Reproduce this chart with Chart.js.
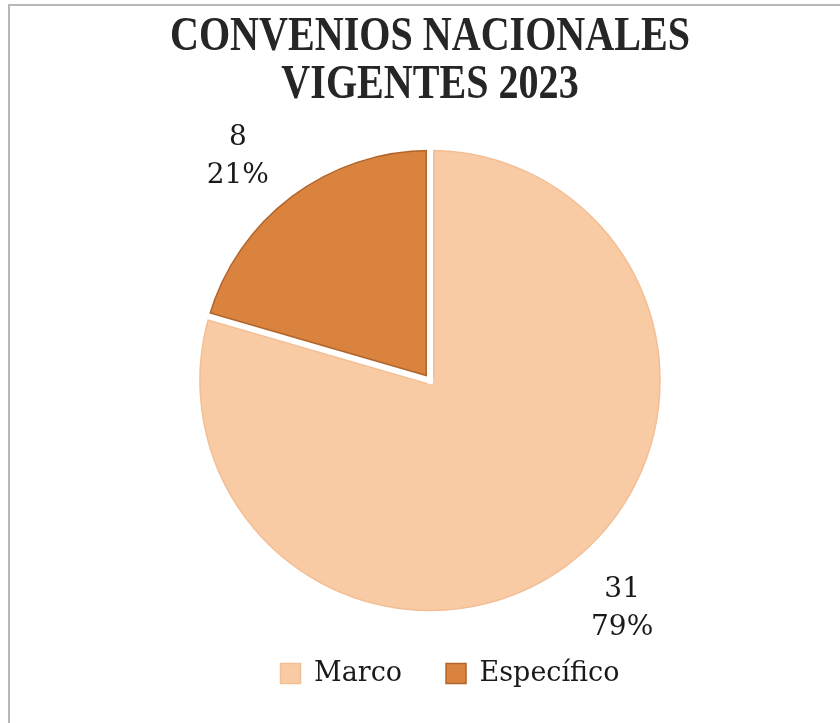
<!DOCTYPE html>
<html><head><meta charset="utf-8">
<script src="https://cdn.jsdelivr.net/npm/chart.js@4/dist/chart.umd.min.js"></script>
<style>
html,body{margin:0;padding:0;background:#fff;}
#wrap{position:absolute;left:0;top:0;width:840px;height:723px;}
#frame{position:absolute;left:8px;top:4px;right:0;bottom:0;border-left:2px solid #b8b8b8;border-top:2px solid #b8b8b8;pointer-events:none}
</style></head><body>
<div id="wrap"><canvas id="c" width="840" height="723"></canvas></div>
<div id="frame"></div>
<script>
const titleLines = ['CONVENIOS NACIONALES', 'VIGENTES 2023'];
const categories = ['Marco', 'Específico'];
const values = [31, 8];
const percentLabels = ['79%', '21%'];
const sliceColors = ['#F9CBA5', '#DA833F'];
const sliceBorders = ['#F3BE94', '#B1652B'];

const titleFont = "bold 48px 'Liberation Serif', serif";
const labelFamily = "'DejaVu Serif', 'Liberation Serif', serif";

const titlePlugin = {
  id: 'condensedTitle',
  afterDraw(chart) {
    const ctx = chart.ctx;
    ctx.save();
    ctx.font = titleFont;
    ctx.fillStyle = '#262626';
    ctx.textAlign = 'center';
    ctx.textBaseline = 'alphabetic';
    const cx = 430;
    const baselines = [50, 97.5];
    titleLines.forEach((t, i) => {
      ctx.save();
      ctx.translate(cx, baselines[i]);
      ctx.scale(0.835, 1);
      ctx.fillText(t, 0, 0);
      ctx.restore();
    });
    ctx.restore();
  }
};

const gapPlugin = {
  id: 'sliceGaps',
  afterDatasetsDraw(chart) {
    const ctx = chart.ctx;
    const arcs = chart.getDatasetMeta(0).data;
    const gap = 6, edge = 1.5;
    ctx.save();
    arcs.forEach((arc, i) => {
      const p = arc.getProps(['x', 'y', 'startAngle', 'endAngle', 'outerRadius'], true);
      ctx.save();
      ctx.beginPath();
      ctx.moveTo(p.x, p.y);
      ctx.arc(p.x, p.y, p.outerRadius, p.startAngle, p.endAngle);
      ctx.closePath();
      ctx.clip();
      ctx.strokeStyle = sliceBorders[i];
      ctx.lineWidth = gap + 2 * edge;
      ctx.lineCap = 'butt';
      [p.startAngle, p.endAngle].forEach(a => {
        ctx.beginPath();
        ctx.moveTo(p.x, p.y);
        ctx.lineTo(p.x + Math.cos(a) * (p.outerRadius + 10), p.y + Math.sin(a) * (p.outerRadius + 10));
        ctx.stroke();
      });
      ctx.restore();
    });
    ctx.strokeStyle = '#ffffff';
    ctx.lineWidth = gap;
    ctx.lineCap = 'square';
    arcs.forEach(arc => {
      const p = arc.getProps(['x', 'y', 'startAngle', 'outerRadius'], true);
      const a = p.startAngle;
      ctx.beginPath();
      ctx.moveTo(p.x, p.y);
      ctx.lineTo(p.x + Math.cos(a) * (p.outerRadius + 2), p.y + Math.sin(a) * (p.outerRadius + 2));
      ctx.stroke();
    });
    ctx.restore();
  }
};

const labelPlugin = {
  id: 'outsideLabels',
  afterDatasetsDraw(chart) {
    const ctx = chart.ctx;
    const meta = chart.getDatasetMeta(0);
    ctx.save();
    ctx.font = "28px " + labelFamily;
    ctx.fillStyle = '#1a1a1a';
    ctx.textAlign = 'center';
    ctx.textBaseline = 'middle';
    meta.data.forEach((arc, i) => {
      const p = arc.getProps(['x', 'y', 'startAngle', 'endAngle', 'outerRadius'], true);
      const mid = (p.startAngle + p.endAngle) / 2 - 0.06;
      const r = p.outerRadius * 1.29;
      const cx = p.x + Math.cos(mid) * r;
      const cy = p.y + Math.sin(mid) * r + 2.5;
      ctx.fillText(String(values[i]), cx, cy - 19);
      ctx.fillText(percentLabels[i], cx, cy + 19);
    });
    ctx.restore();
  }
};

const legendShift = {
  id: 'legendShift',
  afterLayout(chart) {
    if (chart.legend) { chart.legend.left += 40; }
  }
};

new Chart(document.getElementById('c'), {
  type: 'pie',
  data: {
    labels: categories,
    datasets: [{
      data: values,
      backgroundColor: sliceColors,
      borderColor: sliceBorders,
      borderWidth: 1.5
    }]
  },
  options: {
    responsive: false,
    animation: false,
    radius: 230,
    layout: { padding: { left: 20, right: 0, top: 145, bottom: 26 } },
    plugins: {
      title: { display: false },
      legend: {
        position: 'bottom',
        labels: {
          boxWidth: 20,
          boxHeight: 20,
          color: '#1a1a1a',
          font: { family: labelFamily, size: 27 },
          padding: 44
        }
      },
      tooltip: { enabled: false }
    }
  },
  plugins: [gapPlugin, labelPlugin, titlePlugin, legendShift]
});
</script>
</body></html>
